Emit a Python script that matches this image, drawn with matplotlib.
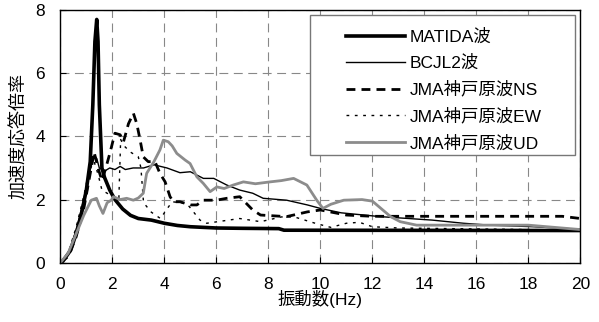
import matplotlib
matplotlib.use("Agg")
import matplotlib.pyplot as plt
from matplotlib.patches import Rectangle

plt.rcParams['font.family'] = ['Liberation Sans', 'Noto Sans CJK JP', 'DejaVu Sans']

# 振動数(Hz) / 加速度応答倍率
matida_f = [0, 0.1, 0.4, 0.6, 0.8, 1.0, 1.15, 1.25, 1.33, 1.4, 1.45, 1.5, 1.6, 1.7, 1.9, 2.1, 2.4,
            2.7, 3.0, 3.5, 4.0, 4.5, 5.0, 6.0, 7.0, 8.4, 8.6, 20]
matida_a = [0, 0.05, 0.4, 0.9, 1.5, 2.3, 3.2, 5.0, 7.0, 7.7, 7.0, 5.0, 3.0, 2.7, 2.3, 2.0, 1.7,
            1.5, 1.4, 1.35, 1.25, 1.18, 1.14, 1.1, 1.09, 1.08, 1.03, 1.02]

bcjl_f = [0, 0.3, 0.6, 0.9, 1.1, 1.3, 1.4, 1.5, 1.7, 1.9, 2.1, 2.3, 2.5, 2.8, 3.2, 3.6, 4.1, 4.6,
          5.0, 5.5, 5.9, 6.4, 6.9, 7.4, 7.8, 8.7, 9.5, 10.0, 10.8, 12.3, 14.3, 15.5, 16.5, 18.2, 20]
bcjl_a = [0, 0.3, 1.0, 2.0, 2.8, 3.4, 3.3, 3.0, 2.9, 3.0, 2.95, 3.05, 2.95, 3.0, 3.0, 3.1, 3.0, 2.85,
          2.88, 2.67, 2.67, 2.46, 2.3, 2.2, 2.04, 1.98, 1.83, 1.72, 1.58, 1.46, 1.35, 1.25, 1.19, 1.14, 1.06]

ns_f = [0, 0.3, 0.6, 0.9, 1.1, 1.3, 1.45, 1.6, 1.75, 1.9, 2.1, 2.3, 2.43, 2.62, 2.81, 2.94, 3.07,
        3.19, 3.38, 3.64, 3.83, 4.03, 4.22, 4.35, 4.6, 5.0, 5.25, 5.5, 6.0, 6.4, 6.9, 7.4, 7.7, 8.7,
        9.5, 10.0, 11.0, 12.0, 19.3, 20]
ns_a = [0, 0.2, 0.8, 1.7, 2.6, 3.5, 3.0, 2.6, 3.0, 3.45, 4.1, 4.05, 3.83, 4.4, 4.73, 4.4, 3.88,
        3.35, 3.2, 3.2, 2.83, 2.56, 2.09, 1.93, 1.93, 1.83, 1.83, 1.98, 1.98, 2.04, 2.09, 1.67, 1.51, 1.46,
        1.61, 1.67, 1.51, 1.47, 1.47, 1.4]

ew_f = [0, 0.3, 0.6, 0.9, 1.1, 1.3, 1.45, 1.6, 1.8, 2.0, 2.25, 2.32, 2.45, 2.7, 3.0, 3.1, 3.2, 3.5,
        3.85, 4.1, 4.3, 4.86, 5.37, 5.63, 6.9, 7.7, 8.5, 9.0, 9.8, 10.4, 11.0, 11.5, 12.0, 13.0, 20]
ew_a = [0, 0.3, 1.1, 2.1, 2.9, 3.2, 2.8, 2.3, 2.2, 2.1, 2.0, 3.9, 3.7, 3.5, 3.35, 3.0, 1.9, 1.6,
        1.4, 1.7, 1.93, 1.88, 1.35, 1.25, 1.4, 1.3, 1.45, 1.45, 1.25, 1.12, 1.25, 1.28, 1.14, 1.1, 1.03]

ud_f = [0, 0.3, 0.6, 0.9, 1.19, 1.39, 1.5, 1.64, 1.8, 1.96, 2.04, 2.3, 2.55, 2.81, 3.0, 3.19, 3.32,
        3.6, 3.83, 3.96, 4.15, 4.3, 4.48, 4.8, 4.99, 5.25, 5.5, 5.76, 6.02, 6.3, 6.65, 7.04, 7.5, 8.07,
        8.5, 8.97, 9.48, 9.86, 10.1, 10.4, 10.9, 11.6, 12.0, 12.4, 12.7, 13.07, 13.7, 18.0, 20]
ud_a = [0, 0.3, 0.9, 1.5, 1.98, 2.04, 1.8, 1.56, 1.9, 1.98, 2.09, 2.0, 2.04, 1.98, 2.05, 2.2, 2.83,
        3.2, 3.57, 3.88, 3.83, 3.7, 3.46, 3.25, 3.14, 2.72, 2.51, 2.25, 2.4, 2.35, 2.46, 2.56, 2.5, 2.56,
        2.6, 2.67, 2.46, 1.98, 1.72, 1.85, 1.98, 2.0, 1.95, 1.67, 1.46, 1.3, 1.19, 1.19, 1.05]

fig = plt.figure(figsize=(5.99, 3.22), dpi=100)
ax = fig.add_axes([0.1007, 0.184, 0.8683, 0.785])

ax.plot(matida_f, matida_a, color='black', lw=2.6, label='MATIDA波')
ax.plot(bcjl_f, bcjl_a, color='black', lw=1.0, label='BCJL2波')
ax.plot(ns_f, ns_a, color='black', lw=2.0, dashes=(3.2, 2.2), label='JMA神戸原波NS')
ax.plot(ew_f, ew_a, color='black', lw=1.0, dashes=(2, 4), label='JMA神戸原波EW')
ax.plot(ud_f, ud_a, color='#8c8c8c', lw=2.0, label='JMA神戸原波UD')

ax.set_xlim(0, 20)
ax.set_ylim(0, 8)
ax.set_xticks(range(0, 21, 2))
ax.set_yticks(range(0, 9, 2))
ax.grid(True, color='#888888', linestyle=(0, (8, 5)), lw=0.8)
ax.tick_params(direction='in', labelsize=12.5, length=4, width=0.8, color='black')
ax.tick_params(axis='x', pad=10)
ax.tick_params(axis='y', pad=11)
for s in ax.spines.values():
    s.set_linewidth(1.0)

ax.set_xlabel('振動数(Hz)', fontsize=12.5, labelpad=-1)
ax.set_ylabel('加速度応答倍率', fontsize=13, labelpad=5)

# legend box drawn wider than its contents, like the original
ax.add_patch(Rectangle((0.480, 0.426), 0.509, 0.554, transform=ax.transAxes,
                       facecolor='white', edgecolor='#777777', lw=1.0, zorder=5))
leg = ax.legend(loc='upper left', bbox_to_anchor=(0.549, 0.927), fontsize=12.5,
                handlelength=3.4, labelspacing=0.58, frameon=False, borderpad=0,
                borderaxespad=0, handletextpad=0.3)
leg.set_zorder(6)

fig.savefig('out.png', dpi=100)
